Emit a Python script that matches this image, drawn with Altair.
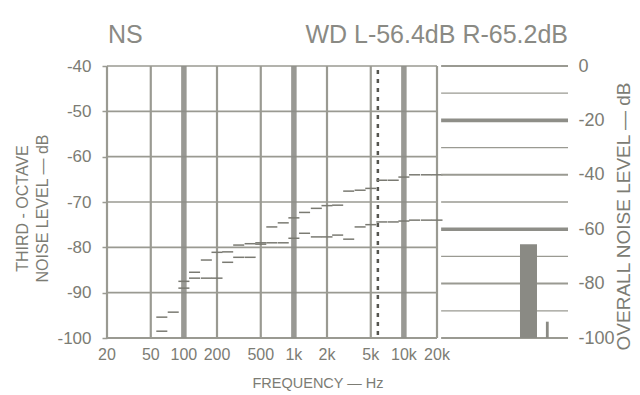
import altair as alt
import pandas as pd

# ---------------- data ----------------
band_freqs = [63, 80, 100, 125, 160, 200, 250, 315, 400, 500, 630, 800, 1000, 1250,
              1600, 2000, 2500, 3150, 4000, 5000, 6300, 8000, 10000, 12500, 16000, 20000]
left_levels = [-95.4, -94.3, -87.5, -85.5, -82.8, -81.1, -81.0, -79.5, -79.2, -79.0, -75.5,
               -74.6, -73.5, -72.3, -71.4, -70.8, -70.7, -67.6, -67.4, -67.0, -65.2, -65.2,
               -64.5, -64.0, -64.0, -64.0]
right_levels = [-98.5, None, -89.0, -86.8, -86.8, -86.8, -83.3, -82.2, -82.2, -79.3, -79.0,
                -79.0, -78.0, -76.9, -77.7, -77.7, -77.3, -78.2, -75.5, -75.0, -74.4, -74.4,
                -74.2, -74.0, -74.0, -74.0]

grid_freqs = [20, 50, 100, 200, 500, 1000, 2000, 5000, 10000, 20000]
grid_labels = ["20", "50", "100", "200", "500", "1k", "2k", "5k", "10k", "20k"]
heavy_freqs = [100, 1000, 10000]
marker_freqs = [5800]

left_ticks = [-40, -50, -60, -70, -80, -90, -100]
right_lines = [0, -10, -20, -30, -40, -50, -60, -70, -80, -90, -100]
right_heavy = [-20, -60]
right_medium = [0, -40, -80, -100]
right_labels = [0, -20, -40, -60, -80, -100]

overall_names = ["wide", "narrow"]
overall_levels = [-65.5, -94.0]

title_left = "NS"
title_right = "WD L-56.4dB R-65.2dB"
x_title = "FREQUENCY — Hz"
left_title = ["THIRD - OCTAVE", "NOISE LEVEL — dB"]
right_title = "OVERALL NOISE LEVEL — dB"

# ---------------- layout / style ----------------
W, H = 463, 272
PX_U = 330.0            # pixels per 3 decades (20 Hz - 20 kHz)
UMAX = W / PX_U
TXT = "#7c7c74"
GRID = "#9a9a92"
HEAVY = "#8e8e88"
FONT = "Liberation Sans"

U_EXPR = "log(datum.f/20)/LN10/3"
HALF = "LN2/LN10/18"
HYPHEN = "datum.value == 0 ? '0' : '-' + abs(datum.value)"

xs = alt.Scale(domain=[0, UMAX], nice=False, zero=False)
yL = alt.Scale(domain=[-100, -40], nice=False, zero=False)
yR = alt.Scale(domain=[-100, 0], nice=False, zero=False)

# ---------- left (third-octave) panel ----------
hgrid = alt.Chart(pd.DataFrame({"db": left_ticks})).transform_calculate(
    u0="0", u1="1", w="datum.db == -100 ? 2.2 : 1.6"
).mark_rule(color=GRID).encode(
    x=alt.X("u0:Q", scale=xs, axis=None),
    x2="u1:Q",
    strokeWidth=alt.StrokeWidth("w:Q", scale=None),
    y=alt.Y("db:Q", scale=yL, axis=alt.Axis(
        values=left_ticks, title=left_title, labelExpr=HYPHEN,
        grid=False, domain=False, ticks=True, tickSize=5, tickColor=GRID, tickWidth=1.5,
        labelPadding=11, labelFont=FONT, labelFontSize=17, labelColor=TXT,
        titleAngle=270, titleX=-93, titleY=142, titleBaseline="top", titleAlign="center",
        titleLineHeight=20, titleFont=FONT, titleFontSize=16, titleFontWeight="normal",
        titleColor=TXT, titleLimit=400)),
)

thin_v = [f for f in grid_freqs if f not in heavy_freqs]
vthin = alt.Chart(pd.DataFrame({"f": thin_v})).transform_calculate(u=U_EXPR).mark_rule(
    color=GRID, strokeWidth=2.2).encode(
    x=alt.X("u:Q", scale=xs, axis=None), y=alt.value(0), y2=alt.value(H))

vheavy = alt.Chart(pd.DataFrame({"f": heavy_freqs})).transform_calculate(u=U_EXPR).mark_rule(
    color=HEAVY, strokeWidth=5.5, opacity=0.9).encode(
    x=alt.X("u:Q", scale=xs, axis=None), y=alt.value(0), y2=alt.value(H))

marker = alt.Chart(pd.DataFrame({"f": marker_freqs})).transform_calculate(u=U_EXPR).mark_rule(
    color="#55554f", strokeWidth=2.5, strokeDash=[4, 5]).encode(
    x=alt.X("u:Q", scale=xs, axis=None), y=alt.value(4), y2=alt.value(H))

trace_rows = []
for f, a, b in zip(band_freqs, left_levels, right_levels):
    if a is not None:
        trace_rows.append({"f": f, "level": a, "ch": "L"})
    if b is not None:
        trace_rows.append({"f": f, "level": b, "ch": "R"})
traces = alt.Chart(pd.DataFrame(trace_rows)).transform_calculate(
    u0=U_EXPR + "-" + HALF, u1=U_EXPR + "+" + HALF
).mark_rule(color="#7a7a72", strokeWidth=1.5).encode(
    x=alt.X("u0:Q", scale=xs, axis=None), x2="u1:Q",
    y=alt.Y("level:Q", scale=yL, axis=None))

xlabels = alt.Chart(pd.DataFrame({"f": grid_freqs, "lab": grid_labels})).transform_calculate(
    u=U_EXPR).mark_text(font=FONT, fontSize=16, color=TXT, baseline="middle").encode(
    x=alt.X("u:Q", scale=xs, axis=None), y=alt.value(H + 17), text="lab:N")

xtitle = alt.Chart(pd.DataFrame({"t": [x_title]})).mark_text(
    font=FONT, fontSize=14.5, color=TXT, align="center", baseline="middle").encode(
    x=alt.value(211), y=alt.value(H + 46), text="t:N")

TFONT = "'Liberation Sans', sans-serif"
t1 = alt.Chart(pd.DataFrame({"t": [title_left]})).mark_text(
    font=TFONT, fontSize=25, color="#8a8a84", align="left",
    baseline="middle").encode(x=alt.value(1), y=alt.value(-31), text="t:N")
t2 = alt.Chart(pd.DataFrame({"t": [title_right]})).mark_text(
    font=TFONT, fontSize=25, color="#8a8a84", align="right",
    baseline="middle").encode(x=alt.value(461), y=alt.value(-31), text="t:N")

# ---------- right (overall level) panel ----------
rlines = alt.Chart(pd.DataFrame({"r": right_lines})).transform_calculate(
    a="1.0125", b="1.397",
    w="indexof(%s, datum.r) >= 0 ? 3.6 : (indexof(%s, datum.r) >= 0 ? 2.0 : 1.3)"
      % (str(right_heavy), str(right_medium)),
    c="indexof(%s, datum.r) >= 0 ? '%s' : '%s'" % (str(right_heavy), HEAVY, GRID),
).mark_rule().encode(
    x=alt.X("a:Q", scale=xs, axis=None), x2="b:Q",
    strokeWidth=alt.StrokeWidth("w:Q", scale=None),
    color=alt.Color("c:N", scale=None),
    y=alt.Y("r:Q", scale=yR, axis=alt.Axis(
        orient="right", values=right_labels, labelExpr=HYPHEN,
        grid=False, domain=False, ticks=False,
        labelAlign="left", labelPadding=8, labelFont=FONT, labelFontSize=18, labelColor=TXT,
        title=right_title, titleAngle=270, titleX=53, titleY=150,
        titleBaseline="middle", titleAlign="center", titleFont=FONT, titleFontSize=19,
        titleFontWeight="normal", titleColor=TXT, titleLimit=400)))

bar_df = pd.DataFrame({"name": overall_names, "level": overall_levels})
bars = alt.Chart(bar_df).transform_calculate(
    u0="datum.name == 'wide' ? 1.2515 : 1.330",
    u1="datum.name == 'wide' ? 1.303 : 1.3385",
    base="-100",
).mark_rect(color="#8a8a84").encode(
    x=alt.X("u0:Q", scale=xs, axis=None), x2="u1:Q",
    y=alt.Y("level:Q", scale=yR, axis=None), y2="base:Q")

chart = alt.layer(
    hgrid, vthin, vheavy, marker, traces, xlabels, xtitle, t1, t2, rlines, bars
).resolve_scale(y="independent").properties(
    width=W, height=H,
    autosize=alt.AutoSizeParams(type="none"),
    padding={"left": 99, "top": 58, "right": 62, "bottom": 55},
    background="white",
).configure_view(stroke=None)

chart.save("out.html", embed_options={"renderer": "svg", "actions": False})
